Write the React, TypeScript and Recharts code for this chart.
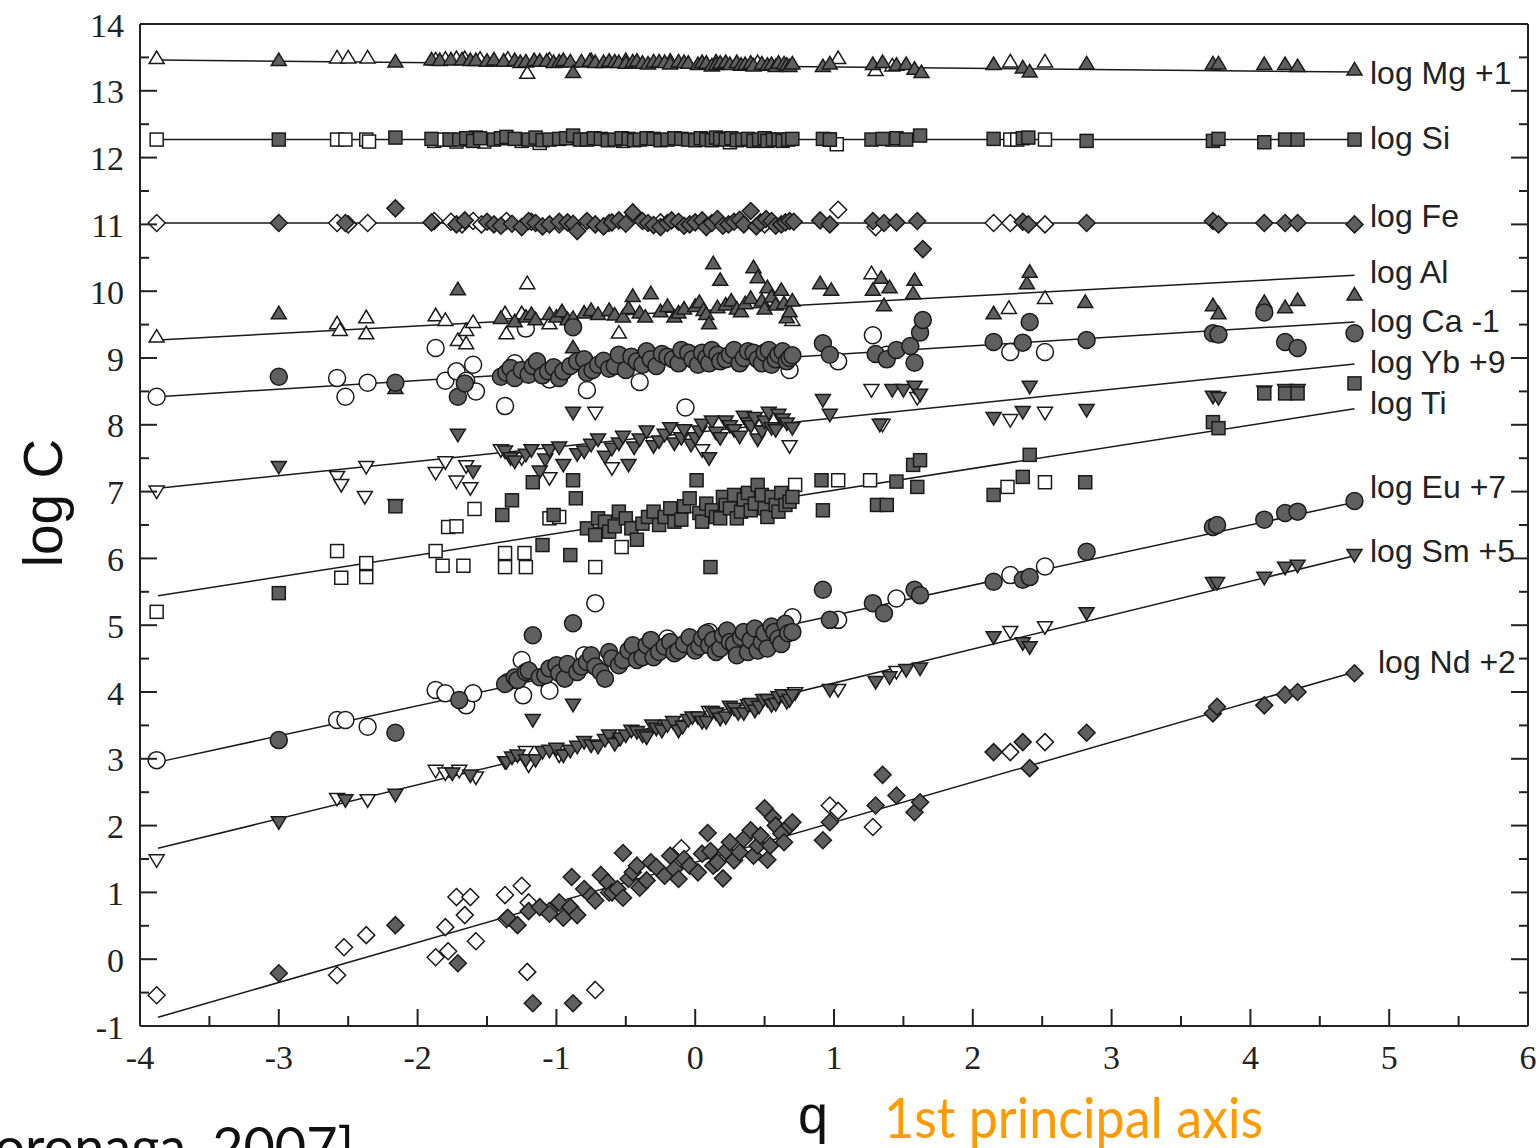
import React from 'react';
import { ScatterChart, Scatter, XAxis, YAxis } from 'recharts';

type P = [number, number];

const xTicks = [-4, -3.5, -3, -2.5, -2, -1.5, -1, -0.5, 0, 0.5, 1, 1.5, 2, 2.5, 3, 3.5, 4, 4.5, 5, 5.5, 6];
const yTicks = [-1, -0.5, 0, 0.5, 1, 1.5, 2, 2.5, 3, 3.5, 4, 4.5, 5, 5.5, 6, 6.5, 7, 7.5, 8, 8.5, 9, 9.5, 10, 10.5, 11, 11.5, 12, 12.5, 13, 13.5, 14];

// fitted lines (q, log C) at both ends
const mgFit: P[] = [[-3.87, 13.46], [4.75, 13.28]];
const siFit: P[] = [[-3.87, 12.27], [4.75, 12.27]];
const feFit: P[] = [[-3.87, 11.02], [4.75, 11.02]];
const alFit: P[] = [[-3.87, 9.27], [4.75, 10.24]];
const caFit: P[] = [[-3.87, 8.42], [4.75, 9.54]];
const ybFit: P[] = [[-3.87, 7.05], [4.75, 8.91]];
const tiFit: P[] = [[-3.87, 5.44], [4.75, 8.24]];
const euFit: P[] = [[-3.87, 2.95], [4.75, 6.84]];
const smFit: P[] = [[-3.87, 1.66], [4.75, 6.04]];
const ndFit: P[] = [[-3.87, -0.87], [4.75, 4.30]];

const mgFilled: P[] = [[-3.0,13.46],[-2.16,13.44],[-1.90,13.47],[-1.84,13.46],[-1.76,13.47],[-1.68,13.47],[-1.62,13.46],[-1.58,13.46],[-1.50,13.45],[-1.45,13.47],[-1.38,13.45],[-1.30,13.46],[-1.26,13.43],[-1.22,13.44],[-1.16,13.46],[-1.12,13.45],[-1.07,13.45],[-1.02,13.43],[-0.98,13.44],[-0.95,13.46],[-0.90,13.44],[-0.88,13.28],[-0.82,13.44],[-0.76,13.45],[-0.72,13.43],[-0.66,13.43],[-0.62,13.45],[-0.58,13.44],[-0.55,13.43],[-0.50,13.42],[-0.45,13.44],[-0.42,13.45],[-0.38,13.42],[-0.34,13.41],[-0.30,13.44],[-0.26,13.44],[-0.22,13.43],[-0.18,13.41],[-0.12,13.44],[-0.08,13.43],[-0.05,13.42],[0.02,13.40],[0.05,13.43],[0.08,13.42],[0.12,13.38],[0.15,13.40],[0.18,13.42],[0.22,13.43],[0.25,13.40],[0.30,13.43],[0.33,13.39],[0.36,13.40],[0.40,13.42],[0.42,13.38],[0.48,13.41],[0.52,13.39],[0.55,13.40],[0.58,13.37],[0.60,13.42],[0.64,13.41],[0.66,13.39],[0.68,13.37],[0.70,13.41],[0.92,13.37],[0.97,13.41],[1.28,13.40],[1.35,13.43],[1.45,13.39],[1.52,13.40],[1.58,13.33],[1.63,13.28],[2.15,13.40],[2.36,13.35],[2.41,13.29],[2.82,13.41],[3.73,13.41],[3.77,13.41],[4.10,13.40],[4.25,13.40],[4.34,13.37],[4.75,13.32]];
const mgOpen: P[] = [[-3.88,13.49],[-2.58,13.50],[-2.50,13.50],[-2.36,13.50],[-1.87,13.47],[-1.80,13.48],[-1.72,13.49],[-1.66,13.49],[-1.55,13.48],[-1.35,13.48],[-1.21,13.27],[-1.05,13.47],[-0.75,13.46],[-0.50,13.46],[-0.18,13.45],[0.15,13.44],[0.45,13.43],[1.03,13.49],[1.30,13.31],[1.42,13.38],[2.27,13.44],[2.52,13.44]];

const siFilled: P[] = [[-3.0,12.27],[-2.16,12.30],[-1.90,12.28],[-1.77,12.27],[-1.70,12.27],[-1.65,12.29],[-1.60,12.25],[-1.55,12.29],[-1.45,12.27],[-1.40,12.29],[-1.36,12.31],[-1.30,12.28],[-1.20,12.27],[-1.15,12.30],[-1.10,12.26],[-1.05,12.27],[-0.98,12.28],[-0.93,12.29],[-0.88,12.33],[-0.83,12.27],[-0.78,12.27],[-0.73,12.29],[-0.68,12.28],[-0.63,12.26],[-0.58,12.27],[-0.53,12.29],[-0.48,12.28],[-0.44,12.26],[-0.40,12.27],[-0.35,12.29],[-0.30,12.28],[-0.25,12.26],[-0.20,12.27],[-0.15,12.29],[-0.10,12.28],[-0.05,12.27],[0.0,12.26],[0.04,12.29],[0.08,12.27],[0.12,12.26],[0.15,12.30],[0.18,12.28],[0.22,12.27],[0.26,12.29],[0.30,12.26],[0.34,12.27],[0.38,12.28],[0.42,12.25],[0.46,12.27],[0.50,12.29],[0.52,12.25],[0.56,12.27],[0.60,12.27],[0.63,12.25],[0.67,12.27],[0.70,12.28],[0.92,12.28],[0.97,12.27],[1.27,12.27],[1.35,12.28],[1.45,12.29],[1.52,12.27],[1.62,12.33],[2.15,12.28],[2.36,12.29],[2.40,12.30],[2.82,12.25],[3.73,12.25],[3.77,12.28],[4.10,12.23],[4.25,12.27],[4.34,12.27],[4.75,12.27]];
const siOpen: P[] = [[-3.88,12.27],[-2.58,12.27],[-2.52,12.27],[-2.37,12.27],[-2.35,12.24],[-1.88,12.25],[-1.82,12.27],[-1.58,12.30],[-1.72,12.24],[-1.52,12.24],[-1.25,12.25],[-1.12,12.22],[-0.52,12.25],[0.25,12.23],[1.02,12.20],[0.97,12.27],[1.42,12.27],[2.27,12.27],[2.32,12.27],[2.52,12.27]];

const feFilled: P[] = [[-3.0,11.02],[-2.52,11.02],[-2.16,11.24],[-1.90,11.03],[-1.72,11.00],[-1.66,11.06],[-1.50,11.04],[-1.45,11.00],[-1.40,10.98],[-1.32,11.01],[-1.25,10.96],[-1.20,11.05],[-1.15,11.02],[-1.10,10.97],[-1.05,11.00],[-0.98,11.04],[-0.92,11.03],[-0.88,11.01],[-0.85,10.90],[-0.78,11.05],[-0.72,11.00],[-0.66,10.97],[-0.60,11.03],[-0.55,11.06],[-0.50,11.01],[-0.45,11.18],[-0.38,11.05],[-0.34,11.02],[-0.30,10.99],[-0.25,10.96],[-0.20,11.02],[-0.17,11.06],[-0.12,11.04],[-0.08,10.98],[-0.04,11.00],[0.0,11.03],[0.05,11.06],[0.08,10.96],[0.12,11.02],[0.16,11.08],[0.20,10.98],[0.24,11.00],[0.28,11.04],[0.32,11.07],[0.35,11.00],[0.40,11.20],[0.44,10.97],[0.47,11.03],[0.51,11.08],[0.55,11.05],[0.58,10.98],[0.62,11.00],[0.65,11.03],[0.68,11.05],[0.71,11.04],[0.90,11.06],[0.97,11.00],[1.28,11.05],[1.36,11.02],[1.45,11.03],[1.60,11.05],[1.64,10.63],[2.36,11.04],[2.40,11.00],[2.82,11.02],[3.73,11.05],[3.77,11.00],[4.10,11.02],[4.25,11.02],[4.34,11.02],[4.75,11.00]];
const feOpen: P[] = [[-3.88,11.02],[-2.58,11.02],[-2.50,11.00],[-2.36,11.02],[-1.88,11.05],[-1.76,11.04],[-1.68,11.00],[-1.60,11.05],[-1.54,11.00],[-1.36,11.05],[-1.18,11.04],[-0.98,11.00],[-0.62,11.02],[-0.25,11.03],[0.50,11.00],[1.03,11.22],[1.30,10.96],[2.15,11.02],[2.27,11.02],[2.52,11.00]];

const alFilled: P[] = [[-3.0,9.67],[-2.16,8.55],[-1.71,10.03],[-1.40,9.60],[-1.30,9.55],[-1.22,9.62],[-1.18,9.66],[-1.15,9.58],[-1.05,9.66],[-1.00,9.62],[-0.96,9.70],[-0.92,9.58],[-0.88,9.60],[-0.88,9.16],[-0.80,9.68],[-0.75,9.72],[-0.70,9.66],[-0.62,9.72],[-0.58,9.65],[-0.52,9.62],[-0.48,9.75],[-0.45,9.93],[-0.40,9.68],[-0.36,9.62],[-0.32,9.97],[-0.25,9.70],[-0.20,9.78],[-0.15,9.62],[-0.12,9.68],[-0.08,9.74],[0.0,9.78],[0.03,9.84],[0.06,9.72],[0.08,9.66],[0.13,10.42],[0.10,9.52],[0.16,9.76],[0.18,10.17],[0.22,9.80],[0.26,9.86],[0.30,9.74],[0.33,9.70],[0.36,9.82],[0.40,9.90],[0.42,10.36],[0.45,10.21],[0.48,9.86],[0.50,9.74],[0.52,10.06],[0.55,9.92],[0.58,9.80],[0.62,10.02],[0.64,9.82],[0.66,9.61],[0.68,9.70],[0.70,9.86],[0.90,10.12],[0.98,10.02],[1.28,10.02],[1.34,10.20],[1.40,10.06],[1.36,9.79],[1.58,10.17],[1.57,9.97],[2.15,9.67],[2.39,10.12],[2.41,10.29],[2.81,9.84],[3.73,9.79],[3.77,9.67],[4.10,9.84],[4.25,9.76],[4.34,9.87],[4.75,9.95]];
const alOpen: P[] = [[-3.88,9.32],[-2.58,9.52],[-2.56,9.42],[-2.37,9.61],[-2.37,9.37],[-1.87,9.64],[-1.80,9.57],[-1.71,9.27],[-1.65,9.22],[-1.65,9.42],[-1.60,9.54],[-1.37,9.67],[-1.36,9.37],[-1.25,9.67],[-1.21,10.12],[-1.05,9.52],[-0.55,9.38],[0.70,9.57],[1.27,10.27],[2.26,9.75],[2.52,9.90]];

const caFilled: P[] = [[-3.0,8.72],[-2.16,8.63],[-1.71,8.42],[-1.66,8.62],[-1.40,8.72],[-1.36,8.78],[-1.33,8.85],[-1.30,8.70],[-1.25,8.82],[-1.20,8.75],[-1.17,8.88],[-1.14,8.95],[-1.10,8.74],[-1.06,8.80],[-1.02,8.86],[-0.98,8.70],[-0.95,8.80],[-0.90,8.88],[-0.88,9.46],[-0.85,8.95],[-0.80,8.98],[-0.78,8.78],[-0.74,8.82],[-0.70,8.90],[-0.66,8.96],[-0.62,8.84],[-0.58,8.88],[-0.55,9.05],[-0.50,8.82],[-0.46,9.02],[-0.42,8.95],[-0.38,8.90],[-0.35,9.10],[-0.32,8.98],[-0.28,8.88],[-0.24,9.06],[-0.20,9.02],[-0.16,8.98],[-0.12,8.92],[-0.10,9.12],[-0.05,9.08],[-0.02,8.98],[0.02,8.90],[0.05,9.08],[0.08,9.00],[0.10,8.92],[0.12,9.12],[0.16,9.05],[0.18,8.95],[0.22,8.98],[0.25,9.05],[0.28,9.12],[0.32,8.92],[0.35,9.00],[0.38,9.10],[0.42,9.08],[0.45,8.98],[0.48,8.92],[0.50,9.08],[0.53,9.12],[0.55,8.90],[0.58,8.98],[0.60,9.05],[0.63,9.10],[0.66,8.95],[0.68,9.00],[0.70,9.04],[0.92,9.22],[0.97,9.05],[1.30,9.06],[1.38,8.98],[1.45,9.12],[1.55,9.18],[1.58,8.93],[1.62,9.38],[1.64,9.57],[2.15,9.24],[2.36,9.23],[2.41,9.54],[2.82,9.27],[3.73,9.37],[3.77,9.35],[4.10,9.68],[4.25,9.24],[4.34,9.15],[4.75,9.37]];
const caOpen: P[] = [[-3.88,8.42],[-2.58,8.70],[-2.52,8.42],[-2.36,8.63],[-1.87,9.15],[-1.80,8.66],[-1.72,8.80],[-1.65,8.66],[-1.60,8.90],[-1.58,8.50],[-1.37,8.28],[-1.30,8.92],[-1.22,9.44],[-1.05,8.68],[-0.78,8.52],[-0.40,8.64],[-0.07,8.26],[0.68,8.82],[1.03,8.95],[1.28,9.34],[1.38,9.05],[2.27,9.09],[2.52,9.09]];

const ybFilled: P[] = [[-3.0,7.37],[-2.16,6.80],[-1.71,7.85],[-1.60,7.30],[-1.37,7.60],[-1.33,7.50],[-1.30,7.45],[-1.22,7.55],[-1.18,7.62],[-1.12,7.30],[-1.08,7.48],[-1.05,7.62],[-0.98,7.66],[-0.95,7.40],[-0.88,8.18],[-0.85,7.56],[-0.80,7.60],[-0.75,7.70],[-0.70,7.78],[-0.65,7.52],[-0.60,7.64],[-0.55,7.72],[-0.52,7.82],[-0.48,7.40],[-0.44,7.66],[-0.40,7.78],[-0.35,7.90],[-0.30,7.68],[-0.26,7.75],[-0.22,7.85],[-0.18,7.95],[-0.15,7.72],[-0.10,7.80],[-0.08,7.92],[-0.03,7.70],[0.0,7.80],[0.03,7.90],[0.05,8.00],[0.10,7.50],[0.12,8.05],[0.15,7.88],[0.18,7.80],[0.22,8.05],[0.25,7.98],[0.28,7.92],[0.32,7.82],[0.35,8.12],[0.38,8.02],[0.40,7.98],[0.43,8.10],[0.45,7.78],[0.48,7.90],[0.50,8.05],[0.53,8.18],[0.55,7.95],[0.58,7.92],[0.60,8.15],[0.63,8.08],[0.66,8.02],[0.70,7.95],[0.92,8.37],[0.97,8.15],[1.33,8.00],[1.42,8.52],[1.50,8.52],[1.58,8.57],[1.62,8.45],[2.15,8.10],[2.36,8.19],[2.41,8.57],[2.82,8.22],[3.73,8.42],[3.77,8.40],[4.10,8.50],[4.25,8.52],[4.34,8.52]];
const ybOpen: P[] = [[-3.88,7.00],[-2.58,7.22],[-2.55,7.10],[-2.38,6.92],[-2.37,7.37],[-1.87,7.28],[-1.80,7.44],[-1.72,7.15],[-1.65,7.38],[-1.62,7.05],[-1.40,7.62],[-1.25,7.50],[-1.05,7.20],[-0.72,8.18],[-0.60,7.35],[0.05,7.62],[0.68,7.68],[1.27,8.52],[1.35,8.00],[1.60,8.40],[2.27,8.07],[2.52,8.18]];

const tiFilled: P[] = [[-3.0,5.48],[-2.16,6.78],[-1.39,6.65],[-1.32,6.87],[-1.17,7.14],[-1.10,6.20],[-1.02,6.65],[-0.90,6.05],[-0.88,7.17],[-0.86,6.90],[-0.78,6.45],[-0.72,6.35],[-0.70,6.60],[-0.65,6.55],[-0.62,6.40],[-0.58,6.48],[-0.55,6.70],[-0.50,6.60],[-0.46,6.45],[-0.42,6.28],[-0.38,6.52],[-0.34,6.62],[-0.30,6.70],[-0.26,6.50],[-0.22,6.62],[-0.18,6.75],[-0.15,6.55],[-0.10,6.58],[-0.08,6.78],[-0.04,6.90],[0.01,7.17],[0.03,6.68],[0.05,6.55],[0.08,6.82],[0.11,5.87],[0.12,6.72],[0.15,6.62],[0.18,6.60],[0.20,6.92],[0.22,6.80],[0.25,6.75],[0.28,6.95],[0.30,6.60],[0.33,6.70],[0.35,6.88],[0.38,6.98],[0.40,6.72],[0.43,6.82],[0.45,7.10],[0.48,6.95],[0.50,6.75],[0.52,6.62],[0.55,6.92],[0.58,6.80],[0.60,6.70],[0.62,6.98],[0.65,6.80],[0.68,6.85],[0.70,6.92],[0.91,7.17],[0.92,6.72],[1.31,6.80],[1.38,6.80],[1.45,7.15],[1.57,7.40],[1.62,7.47],[1.60,7.07],[2.15,6.95],[2.36,7.22],[2.41,7.55],[2.81,7.14],[3.73,8.04],[3.77,7.95],[4.10,8.47],[4.25,8.47],[4.34,8.47],[4.75,8.62]];
const tiOpen: P[] = [[-3.88,5.20],[-2.58,6.11],[-2.55,5.71],[-2.37,5.72],[-2.37,5.93],[-1.87,6.11],[-1.82,5.89],[-1.78,6.47],[-1.72,6.48],[-1.67,5.89],[-1.59,6.74],[-1.37,6.08],[-1.37,5.87],[-1.22,5.87],[-1.23,6.08],[-1.05,6.60],[-0.98,6.62],[-0.72,5.87],[-0.53,6.17],[0.72,7.10],[1.03,7.17],[1.26,7.17],[2.25,7.07],[2.52,7.14]];

const euFilled: P[] = [[-3.0,3.28],[-2.16,3.39],[-1.70,3.88],[-1.37,4.12],[-1.30,4.22],[-1.28,4.18],[-1.22,4.30],[-1.20,4.32],[-1.17,4.85],[-1.12,4.22],[-1.08,4.25],[-1.05,4.35],[-1.00,4.40],[-0.98,4.28],[-0.94,4.20],[-0.92,4.42],[-0.88,5.03],[-0.85,4.30],[-0.82,4.38],[-0.78,4.45],[-0.75,4.55],[-0.72,4.38],[-0.68,4.30],[-0.65,4.20],[-0.62,4.60],[-0.60,4.50],[-0.55,4.40],[-0.52,4.48],[-0.48,4.62],[-0.45,4.70],[-0.42,4.48],[-0.38,4.52],[-0.35,4.70],[-0.32,4.78],[-0.30,4.52],[-0.26,4.60],[-0.22,4.68],[-0.18,4.75],[-0.15,4.58],[-0.12,4.62],[-0.08,4.72],[-0.04,4.82],[0.0,4.62],[0.03,4.68],[0.05,4.80],[0.08,4.88],[0.10,4.70],[0.13,4.78],[0.15,4.60],[0.18,4.65],[0.20,4.85],[0.23,4.92],[0.25,4.75],[0.28,4.72],[0.30,4.55],[0.33,4.82],[0.35,4.90],[0.38,4.60],[0.40,4.78],[0.43,4.95],[0.45,4.62],[0.48,4.75],[0.50,4.88],[0.52,4.65],[0.55,4.98],[0.57,4.90],[0.60,4.80],[0.62,4.72],[0.65,5.02],[0.67,4.88],[0.70,4.90],[0.92,5.53],[0.97,5.08],[1.28,5.33],[1.36,5.18],[1.58,5.53],[1.62,5.45],[2.15,5.65],[2.36,5.68],[2.41,5.72],[2.82,6.10],[3.73,6.47],[3.76,6.50],[4.10,6.58],[4.25,6.68],[4.34,6.70],[4.75,6.86]];
const euOpen: P[] = [[-3.88,2.98],[-2.58,3.58],[-2.52,3.58],[-2.36,3.48],[-1.87,4.03],[-1.80,3.98],[-1.65,3.80],[-1.60,3.98],[-1.35,4.15],[-1.25,4.48],[-1.24,3.95],[-1.05,4.02],[-0.72,5.33],[-0.80,4.55],[-0.20,4.80],[0.10,4.90],[0.70,5.12],[1.03,5.08],[1.45,5.40],[2.27,5.75],[2.52,5.88]];

const smFilled: P[] = [[-3.0,2.05],[-2.52,2.38],[-2.16,2.46],[-1.75,2.78],[-1.62,2.75],[-1.36,2.95],[-1.32,3.02],[-1.28,3.05],[-1.22,2.98],[-1.17,3.58],[-1.15,2.98],[-1.10,3.10],[-1.05,3.12],[-1.00,3.15],[-0.95,3.05],[-0.90,3.12],[-0.88,3.81],[-0.85,3.18],[-0.80,3.25],[-0.75,3.20],[-0.70,3.18],[-0.65,3.28],[-0.62,3.35],[-0.58,3.22],[-0.54,3.30],[-0.50,3.35],[-0.46,3.42],[-0.42,3.40],[-0.38,3.35],[-0.35,3.32],[-0.31,3.50],[-0.28,3.45],[-0.24,3.42],[-0.20,3.50],[-0.16,3.55],[-0.12,3.42],[-0.09,3.48],[-0.05,3.58],[-0.02,3.62],[0.02,3.62],[0.05,3.55],[0.08,3.55],[0.12,3.70],[0.15,3.68],[0.18,3.60],[0.22,3.62],[0.25,3.78],[0.28,3.75],[0.31,3.68],[0.35,3.68],[0.38,3.80],[0.40,3.82],[0.43,3.72],[0.46,3.78],[0.49,3.88],[0.52,3.88],[0.55,3.80],[0.58,3.82],[0.60,3.92],[0.63,3.95],[0.66,3.85],[0.68,3.88],[0.70,3.95],[0.97,4.03],[1.30,4.15],[1.40,4.22],[1.52,4.33],[1.62,4.35],[2.15,4.82],[2.36,4.73],[2.41,4.67],[2.82,5.18],[3.73,5.63],[3.76,5.63],[4.10,5.71],[4.25,5.86],[4.34,5.89],[4.75,6.05]];
const smOpen: P[] = [[-3.88,1.48],[-2.58,2.40],[-2.36,2.38],[-1.87,2.82],[-1.80,2.78],[-1.70,2.82],[-1.58,2.72],[-1.37,2.95],[-1.22,3.10],[-1.20,2.90],[-0.98,3.05],[-0.55,3.30],[0.10,3.70],[0.72,3.98],[1.03,4.03],[1.45,4.30],[2.27,4.90],[2.52,4.97]];

const ndFilled: P[] = [[-3.0,-0.21],[-2.16,0.51],[-1.71,-0.06],[-1.35,0.62],[-1.28,0.51],[-1.20,0.72],[-1.17,-0.66],[-1.12,0.78],[-1.05,0.68],[-0.98,0.85],[-0.95,0.62],[-0.90,0.78],[-0.89,1.23],[-0.88,-0.66],[-0.85,0.66],[-0.80,1.05],[-0.75,0.95],[-0.72,0.88],[-0.68,1.26],[-0.63,1.15],[-0.60,1.00],[-0.56,1.05],[-0.52,1.59],[-0.52,0.92],[-0.48,1.20],[-0.45,1.30],[-0.42,1.40],[-0.40,1.07],[-0.35,1.18],[-0.32,1.45],[-0.28,1.38],[-0.22,1.25],[-0.18,1.55],[-0.15,1.35],[-0.12,1.20],[-0.08,1.50],[-0.04,1.40],[0.02,1.30],[0.05,1.58],[0.09,1.89],[0.11,1.62],[0.13,1.40],[0.16,1.45],[0.20,1.21],[0.22,1.62],[0.25,1.75],[0.28,1.48],[0.32,1.60],[0.35,1.80],[0.40,1.93],[0.42,1.55],[0.45,1.70],[0.47,1.85],[0.50,2.26],[0.52,1.49],[0.54,1.70],[0.56,2.12],[0.58,2.00],[0.62,1.88],[0.64,1.75],[0.68,2.00],[0.70,2.05],[0.92,1.78],[0.97,2.05],[1.30,2.30],[1.35,2.76],[1.45,2.45],[1.58,2.20],[1.62,2.35],[2.15,3.10],[2.36,3.25],[2.41,2.86],[2.82,3.39],[3.73,3.68],[3.76,3.78],[4.10,3.80],[4.25,3.96],[4.34,4.00],[4.75,4.28]];
const ndOpen: P[] = [[-3.88,-0.54],[-2.58,-0.24],[-2.53,0.18],[-2.37,0.36],[-1.87,0.03],[-1.80,0.48],[-1.78,0.12],[-1.72,0.93],[-1.66,0.66],[-1.62,0.93],[-1.58,0.27],[-1.37,0.96],[-1.36,0.60],[-1.25,1.10],[-1.21,-0.19],[-1.20,0.85],[-1.05,0.72],[-0.72,-0.46],[-0.62,1.00],[-0.10,1.66],[0.97,2.30],[1.03,2.22],[1.28,1.98],[2.27,3.10],[2.52,3.25]];

const GRAY = '#5f5f5f';
const INK = '#1a1a1a';

type Kind = 'up' | 'down' | 'square' | 'diamond' | 'circle';

const elements: { kind: Kind; fit: P[]; filled: P[]; open: P[] }[] = [
  { kind: 'up', fit: mgFit, filled: mgFilled, open: mgOpen },
  { kind: 'square', fit: siFit, filled: siFilled, open: siOpen },
  { kind: 'diamond', fit: feFit, filled: feFilled, open: feOpen },
  { kind: 'up', fit: alFit, filled: alFilled, open: alOpen },
  { kind: 'circle', fit: caFit, filled: caFilled, open: caOpen },
  { kind: 'down', fit: ybFit, filled: ybFilled, open: ybOpen },
  { kind: 'square', fit: tiFit, filled: tiFilled, open: tiOpen },
  { kind: 'circle', fit: euFit, filled: euFilled, open: euOpen },
  { kind: 'down', fit: smFit, filled: smFilled, open: smOpen },
  { kind: 'diamond', fit: ndFit, filled: ndFilled, open: ndOpen },
];

const labels = [
  { text: 'log Mg +1', x: 1370, y: 84 },
  { text: 'log Si', x: 1370, y: 149 },
  { text: 'log Fe', x: 1370, y: 227 },
  { text: 'log Al', x: 1370, y: 283 },
  { text: 'log Ca -1', x: 1370, y: 332 },
  { text: 'log Yb +9', x: 1370, y: 373 },
  { text: 'log Ti', x: 1370, y: 414 },
  { text: 'log Eu +7', x: 1370, y: 498 },
  { text: 'log Sm +5', x: 1370, y: 562 },
  { text: 'log Nd +2', x: 1378, y: 673 },
];

const pts = (a: P[]) => a.map(([q, v]) => ({ q, v }));

function Marker({ cx, cy, kind, fill }: any) {
  if (cx == null || cy == null) return <g />;
  const s = { fill, stroke: INK, strokeWidth: 1.5 };
  switch (kind) {
    case 'up':
      return <polygon points={`${cx},${cy - 7} ${cx + 7.5},${cy + 5.5} ${cx - 7.5},${cy + 5.5}`} {...s} />;
    case 'down':
      return <polygon points={`${cx - 7.5},${cy - 5.5} ${cx + 7.5},${cy - 5.5} ${cx},${cy + 7}`} {...s} />;
    case 'square':
      return <rect x={cx - 6.5} y={cy - 6.5} width={13} height={13} {...s} />;
    case 'diamond':
      return <polygon points={`${cx},${cy - 8.5} ${cx + 8.5},${cy} ${cx},${cy + 8.5} ${cx - 8.5},${cy}`} {...s} />;
    default:
      return <circle cx={cx} cy={cy} r={8.5} {...s} />;
  }
}

const isMajor = (v: number) => Math.abs(v - Math.round(v)) < 1e-6;
const serif = { fontFamily: '"Liberation Serif", "Times New Roman", serif', fontSize: 34, fill: '#222' };

const BottomTick = ({ x, y, payload }: any) => (
  <g>
    <line x1={x} x2={x} y1={y} y2={y - (isMajor(payload.value) ? 17 : 10)} stroke="#222" strokeWidth={2} />
    {isMajor(payload.value) && (
      <text x={x} y={y + 31} textAnchor="middle" dominantBaseline="central" {...serif}>{payload.value}</text>
    )}
  </g>
);
const TopTick = ({ x, y, payload }: any) => (
  <line x1={x} x2={x} y1={y} y2={y + (isMajor(payload.value) ? 17 : 10)} stroke="#222" strokeWidth={2} />
);
const LeftTick = ({ x, y, payload }: any) => (
  <g>
    <line x1={x} x2={x + (isMajor(payload.value) ? 17 : 9)} y1={y} y2={y} stroke="#222" strokeWidth={2} />
    {isMajor(payload.value) && (
      <text x={x - 16} y={y + 1} textAnchor="end" dominantBaseline="central" {...serif}>{payload.value}</text>
    )}
  </g>
);
const RightTick = ({ x, y, payload }: any) => (
  <line x1={x} x2={x - (isMajor(payload.value) ? 17 : 9)} y1={y} y2={y} stroke="#222" strokeWidth={2} />
);

const sans = '"Liberation Sans", Arial, Helvetica, sans-serif';

export default function App() {
  return (
    <div style={{ position: 'fixed', left: 0, top: 0, width: 1539, height: 1148, overflow: 'hidden', background: '#fff' }}>
      <ScatterChart width={1539} height={1148} margin={{ top: 0, right: 0, bottom: 0, left: 0 }}>
        <XAxis
          dataKey="q"
          type="number"
          domain={[-4, 6]}
          ticks={xTicks}
          interval={0}
          height={122}
          tickSize={0}
          tickMargin={0}
          tickLine={false}
          tick={<BottomTick />}
          axisLine={{ stroke: '#222', strokeWidth: 2 }}
          allowDataOverflow
        />
        <XAxis
          xAxisId="top"
          orientation="top"
          type="number"
          domain={[-4, 6]}
          ticks={xTicks}
          interval={0}
          height={24}
          tickSize={0}
          tickMargin={0}
          tickLine={false}
          tick={<TopTick />}
          axisLine={{ stroke: '#222', strokeWidth: 2 }}
          allowDataOverflow
        />
        <YAxis
          dataKey="v"
          type="number"
          domain={[-1, 14]}
          ticks={yTicks}
          interval={0}
          width={140}
          tickSize={0}
          tickMargin={0}
          tickLine={false}
          tick={<LeftTick />}
          axisLine={{ stroke: '#222', strokeWidth: 2 }}
          allowDataOverflow
        />
        <YAxis
          yAxisId="right"
          orientation="right"
          type="number"
          domain={[-1, 14]}
          ticks={yTicks}
          interval={0}
          width={11}
          tickSize={0}
          tickMargin={0}
          tickLine={false}
          tick={<RightTick />}
          axisLine={{ stroke: '#222', strokeWidth: 2 }}
          allowDataOverflow
        />
        {elements.map((el, i) => (
          <Scatter
            key={`fit${i}`}
            data={pts(el.fit)}
            line={{ stroke: INK, strokeWidth: 1.5 }}
            shape={() => <g />}
            isAnimationActive={false}
          />
        ))}
        {elements.map((el, i) => (
          <Scatter
            key={`open${i}`}
            data={pts(el.open)}
            shape={(p: any) => <Marker cx={p.cx} cy={p.cy} kind={el.kind} fill="#fff" />}
            isAnimationActive={false}
          />
        ))}
        {elements.map((el, i) => (
          <Scatter
            key={`filled${i}`}
            data={pts(el.filled)}
            shape={(p: any) => <Marker cx={p.cx} cy={p.cy} kind={el.kind} fill={GRAY} />}
            isAnimationActive={false}
          />
        ))}
      </ScatterChart>
      <svg width={1539} height={1148} style={{ position: 'absolute', left: 0, top: 0, pointerEvents: 'none' }}>
        {labels.map((l) => (
          <text key={l.text} x={l.x} y={l.y} fontFamily={sans} fontSize={32} fill="#222">{l.text}</text>
        ))}
        <text transform="translate(62,503) rotate(-90)" textAnchor="middle" fontFamily={sans} fontSize={55} fill="#111">log C</text>
        <text x={813} y={1133} textAnchor="middle" fontFamily={sans} fontSize={54} fill="#111">q</text>
        <text x={884} y={1138} fontFamily='Lato, "Open Sans", sans-serif' fontSize={56} fill="#ff9a00" textLength={379} lengthAdjust="spacingAndGlyphs">1st principal axis</text>
        <text x={354} y={1166} textAnchor="end" fontFamily='Lato, "Open Sans", sans-serif' fontSize={54} fill="#111">oronaga, 2007]</text>
      </svg>
    </div>
  );
}
